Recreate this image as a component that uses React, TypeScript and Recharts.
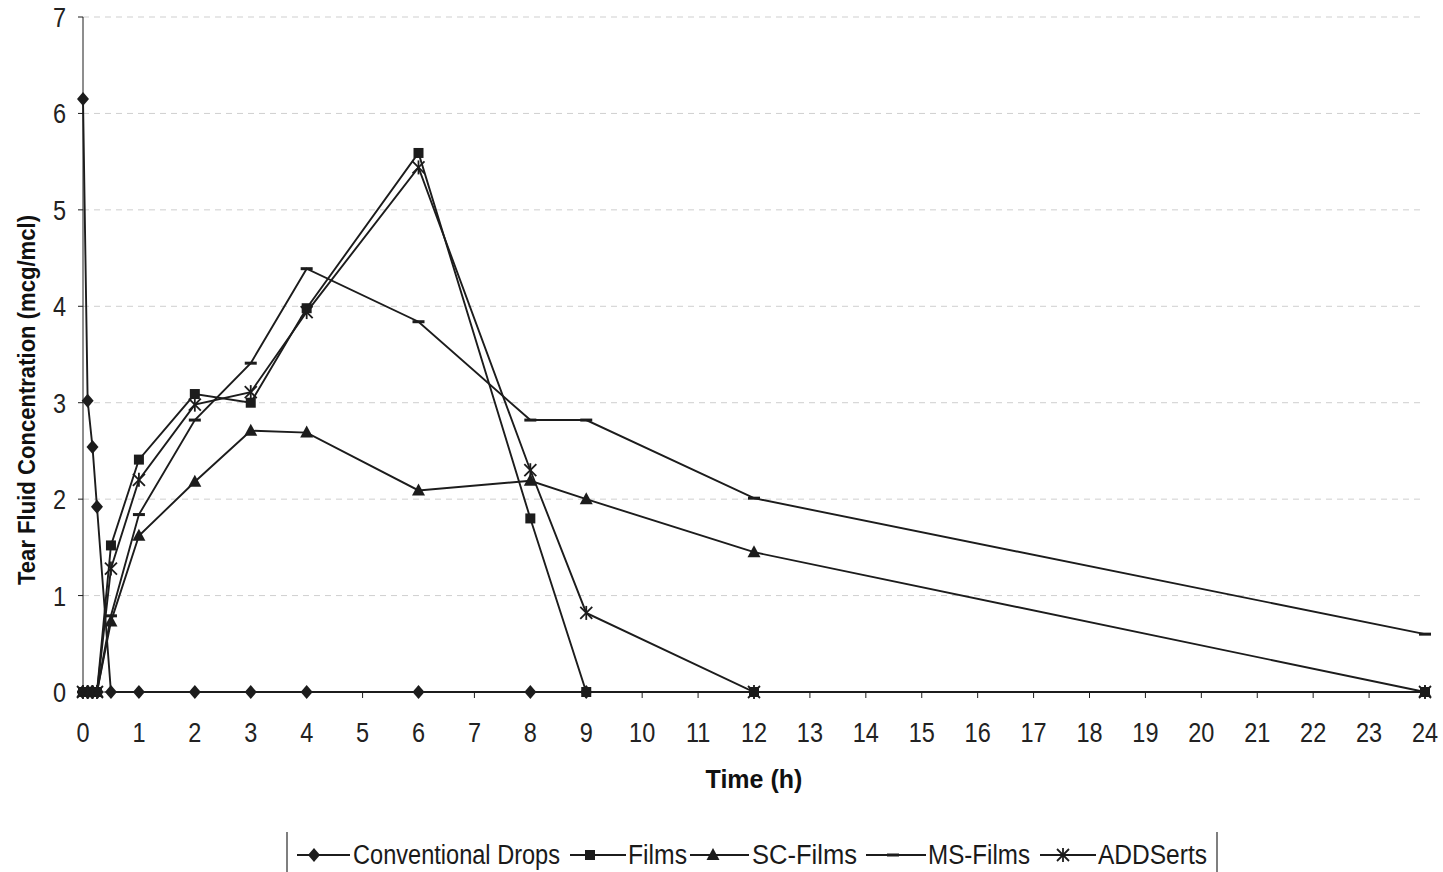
import { LineChart, Line, XAxis, YAxis, CartesianGrid } from 'recharts'

const times = [0, 0.083, 0.17, 0.25, 0.5, 1, 2, 3, 4, 6, 8, 9, 12, 24]
const conventional = [6.15, 3.02, 2.54, 1.92, 0, 0, 0, 0, 0, 0, 0, 0, null, null]
const films = [0, 0, 0, 0, 1.52, 2.41, 3.09, 3.0, 3.98, 5.59, 1.8, 0, 0, 0]
const scFilms = [0, 0, 0, 0, 0.73, 1.62, 2.18, 2.71, 2.69, 2.09, 2.19, 2.0, 1.45, 0]
const msFilms = [0, 0, 0, 0, 0.79, 1.84, 2.82, 3.41, 4.39, 3.84, 2.82, 2.82, 2.01, 0.6]
const addserts = [0, 0, 0, 0, 1.28, 2.2, 2.98, 3.11, 3.94, 5.44, 2.3, 0.82, 0, 0]
const xTicks = Array.from({ length: 25 }, (_, i) => i)
const yTicks = [0, 1, 2, 3, 4, 5, 6, 7]

const data = times.map((t, i) => ({
  t,
  conventional: conventional[i],
  films: films[i],
  scFilms: scFilms[i],
  msFilms: msFilms[i],
  addserts: addserts[i],
}))

const INK = '#1c1c1c'
const FONT = "'Liberation Sans', Arial, sans-serif"
const NARROW = 0.84 // no narrow font installed, so squeeze horizontally

type Kind = 'diamond' | 'square' | 'triangle' | 'dash' | 'star'

function Marker({ kind, x, y }: { kind: Kind; x: number; y: number }) {
  if (kind === 'diamond') return <path d={`M${x},${y - 7}L${x + 6},${y}L${x},${y + 7}L${x - 6},${y}Z`} fill={INK} />
  if (kind === 'square') return <rect x={x - 5} y={y - 5} width={10} height={10} fill={INK} />
  if (kind === 'triangle') return <path d={`M${x},${y - 7}L${x + 6.5},${y + 5}L${x - 6.5},${y + 5}Z`} fill={INK} />
  if (kind === 'dash') return <rect x={x - 6} y={y - 1.5} width={12} height={3} fill={INK} />
  return (
    <g stroke={INK} strokeWidth={1.8}>
      <line x1={x - 6} y1={y - 6} x2={x + 6} y2={y + 6} />
      <line x1={x - 6} y1={y + 6} x2={x + 6} y2={y - 6} />
      <line x1={x} y1={y - 7} x2={x} y2={y + 7} />
    </g>
  )
}

const makeDot = (kind: Kind) => (props: any) => {
  const { cx, cy, index, value } = props
  if (value == null || cx == null || cy == null) return <g key={`${kind}-${index}`} />
  return (
    <g key={`${kind}-${index}`}>
      <Marker kind={kind} x={cx} y={cy} />
    </g>
  )
}

const XTick = (props: any) => {
  const { x, y, payload } = props
  return (
    <text transform={`translate(${x},${y}) scale(${NARROW},1)`} textAnchor="middle" dy="0.71em" fill="#222" fontSize={28} fontFamily={FONT}>
      {payload.value}
    </text>
  )
}

const YTick = (props: any) => {
  const { x, y, payload } = props
  return (
    <text transform={`translate(${x},${y}) scale(${NARROW},1)`} textAnchor="end" dy="0.355em" fill="#222" fontSize={28} fontFamily={FONT}>
      {payload.value}
    </text>
  )
}

const series: [string, string, Kind][] = [
  ['conventional', 'Conventional Drops', 'diamond'],
  ['films', 'Films', 'square'],
  ['scFilms', 'SC-Films', 'triangle'],
  ['msFilms', 'MS-Films', 'dash'],
  ['addserts', 'ADDSerts', 'star'],
]

// legend layout: [line start, marker x, line end, text start, text width]
const legendPos = [
  [297, 314, 350, 353, 207],
  [570, 590, 626, 628, 59],
  [690, 713, 749, 752, 105],
  [866, 893, 926, 928, 102],
  [1040, 1063, 1096, 1098, 109],
]

export default function App() {
  return (
    <div style={{ position: 'absolute', left: 0, top: 0, width: 1443, height: 872, background: '#fff', overflow: 'hidden' }}>
      <LineChart width={1443} height={872} data={data} margin={{ top: 17, right: 18, left: 0, bottom: 60 }}>
        <CartesianGrid horizontal vertical={false} stroke="#cfcfcf" strokeDasharray="6 5" />
        <XAxis
          dataKey="t"
          type="number"
          domain={[0, 24]}
          ticks={xTicks}
          interval={0}
          height={120}
          tickSize={6}
          tickMargin={24}
          stroke={INK}
          tick={<XTick />}
          label={{ value: 'Time (h)', position: 'insideTop', offset: 78, fill: '#111', fontSize: 25, fontWeight: 'bold', fontFamily: FONT }}
        />
        <YAxis
          type="number"
          domain={[0, 7]}
          ticks={yTicks}
          width={83}
          tickSize={5}
          tickMargin={12}
          stroke={INK}
          tick={<YTick />}
          label={{
            content: () => (
              <text
                transform="translate(35,400) rotate(-90)"
                textAnchor="middle"
                textLength={370}
                lengthAdjust="spacingAndGlyphs"
                fill="#111"
                fontSize={23}
                fontWeight="bold"
                fontFamily={FONT}
              >
                Tear Fluid Concentration (mcg/mcl)
              </text>
            ),
          }}
        />
        {series.map(([key, , kind]) => (
          <Line
            key={key}
            dataKey={key}
            type="linear"
            stroke={INK}
            strokeWidth={1.9}
            dot={makeDot(kind)}
            activeDot={false}
            connectNulls={false}
            isAnimationActive={false}
          />
        ))}
      </LineChart>
      <svg width={1443} height={50} style={{ position: 'absolute', left: 0, top: 826 }}>
        <line x1={287} y1={6} x2={287} y2={50} stroke="#555" strokeWidth={1.5} />
        <line x1={1217} y1={6} x2={1217} y2={50} stroke="#555" strokeWidth={1.5} />
        {series.map(([key, name, kind], i) => {
          const [l0, mx, l1, tx, tw] = legendPos[i]
          return (
            <g key={key}>
              <line x1={l0} y1={29} x2={l1} y2={29} stroke={INK} strokeWidth={1.8} />
              <Marker kind={kind} x={mx} y={29} />
              <text x={tx} y={38} textLength={tw} lengthAdjust="spacingAndGlyphs" fontSize={27} fontFamily={FONT} fill="#1a1a1a">
                {name}
              </text>
            </g>
          )
        })}
      </svg>
    </div>
  )
}
